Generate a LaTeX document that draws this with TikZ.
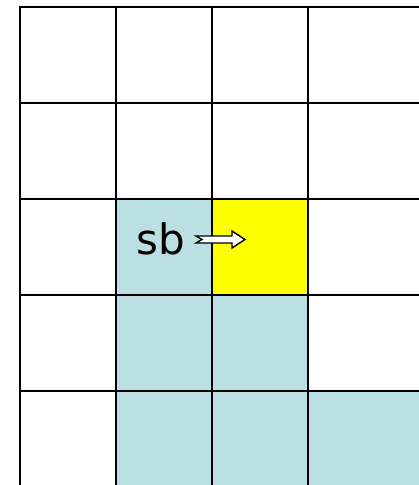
\documentclass[tikz,border=0pt]{standalone}
\usepackage{fontspec}
\newfontfamily\lblfont{DejaVu Sans}
\usetikzlibrary{calc,positioning}
\definecolor{cellblue}{RGB}{187,224,227}
\definecolor{cellyellow}{RGB}{255,255,0}
\tikzset{
  gridline/.style={line width=2pt,black},
  bluecell/.style={fill=cellblue,draw=none},
  yelcell/.style={fill=cellyellow,draw=none},
  blockarrow/.style={fill=white,draw=black,line width=1.4pt,line join=miter},
  lbl/.style={font=\lblfont\fontsize{42}{42}\selectfont,inner sep=0pt,anchor=base}
}
\begin{document}
\begin{tikzpicture}[x=1pt,y=1pt]
\useasboundingbox (0,0) rectangle (419,485);

% shaded cells
\fill[bluecell] (116,0) rectangle (212,286);
\fill[bluecell] (212,0) rectangle (308,190);
\fill[bluecell] (308,0) rectangle (419,94);
\fill[yelcell] (212,190) rectangle (308,286);

% grid
\foreach \x in {20,116,212,308}
  \draw[gridline] (\x,0) -- (\x,478);
\foreach \y in {94,190,286,382,478}
  \draw[gridline] (19,\y) -- (419,\y);

% label and notched arrow
\node[lbl] (sb) at (161,230) {sb};
\coordinate (notch) at (202,245.5);
\draw[blockarrow] (notch) -- ++(-6,3.5) -- ++(36,0) -- ++(0,5) -- ++(13,-8.5)
  -- ++(-13,-8.5) -- ++(0,5) -- ++(-36,0) -- cycle;
\end{tikzpicture}
\end{document}
